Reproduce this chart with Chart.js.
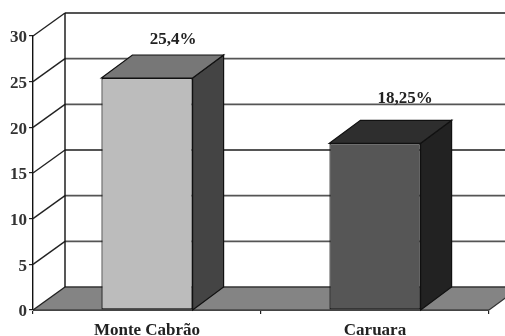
<!DOCTYPE html>
<html><head><meta charset="utf-8">
<script src="https://cdn.jsdelivr.net/npm/chart.js@4"></script>
<style>
html,body{margin:0;padding:0;background:#fff;overflow:hidden}
#w{width:505px;height:336px}
canvas{display:block;filter:blur(0.6px)}
</style></head><body><div id="w"><canvas id="c"></canvas></div>
<script>
const categories = ['Monte Cabrão', 'Caruara'];
const values = [25.4, 18.25];
const valueLabels = ['25,4%', '18,25%'];
const yMax = 30;
const yStep = 5;

const frontColors = ['#bcbcbc', '#565656'];
const sideColors = ['#444444', '#222222'];
const topColors = ['#777777', '#2e2e2e'];
const DX = 31, DY = 23;
const labelOffsets = [[26, -38], [30, -45]];
const FONT = 'bold 17px "Liberation Serif"';

function poly(ctx, pts, fill, stroke, lw) {
  ctx.beginPath();
  pts.forEach((p, i) => i ? ctx.lineTo(p[0], p[1]) : ctx.moveTo(p[0], p[1]));
  ctx.closePath();
  if (fill) { ctx.fillStyle = fill; ctx.fill(); }
  if (stroke) { ctx.strokeStyle = stroke; ctx.lineWidth = lw || 1; ctx.stroke(); }
}
function seg(ctx, x0, y0, x1, y1, color, lw) {
  ctx.beginPath(); ctx.moveTo(x0, y0); ctx.lineTo(x1, y1);
  ctx.strokeStyle = color; ctx.lineWidth = lw; ctx.stroke();
}

const box3d = {
  id: 'box3d',
  beforeDatasetsDraw(chart) {
    const { ctx, chartArea: a, scales: { y } } = chart;
    ctx.save();
    const bx = a.left + DX + 1, ex = a.right + DX;
    const y0 = y.getPixelForValue(0);
    poly(ctx, [[a.left, y0], [bx, y0 - DY], [ex, y0 - DY], [a.right, y0]], '#848484');
    seg(ctx, bx, y0 - DY, ex, y0 - DY, '#333', 1.6);
    seg(ctx, a.left, y0, a.right, y0, '#444', 1.6);
    seg(ctx, a.right, y0, ex, y0 - DY, '#333', 1.2);
    y.ticks.forEach(t => {
      const py = y.getPixelForValue(t.value);
      if (t.value > 0) seg(ctx, bx, py - DY, ex, py - DY, '#555', 1.8);
      seg(ctx, a.left, py, bx, py - DY, '#222', 1.4);
    });
    seg(ctx, bx, y.getPixelForValue(yMax) - DY, bx, y0 - DY, '#111', 1.4);
    chart.getDatasetMeta(0).data.forEach((b, i) => {
      const l = b.x - b.width / 2, r = b.x + b.width / 2;
      poly(ctx, [[r, b.y], [r + DX, b.y - DY], [r + DX, y0 - DY], [r, y0]], sideColors[i], '#111', 1.2);
      poly(ctx, [[l, b.y], [l + DX, b.y - DY], [r + DX, b.y - DY], [r, b.y]], topColors[i], '#111', 1.2);
    });
    ctx.restore();
  },
  afterDatasetsDraw(chart) {
    const { ctx } = chart;
    ctx.save();
    ctx.font = FONT;
    ctx.fillStyle = '#222';
    ctx.textAlign = 'center';
    ctx.textBaseline = 'middle';
    chart.getDatasetMeta(0).data.forEach((b, i) => {
      ctx.fillText(valueLabels[i], b.x + labelOffsets[i][0], b.y + labelOffsets[i][1]);
    });
    ctx.restore();
  }
};

new Chart(document.getElementById('c'), {
  type: 'bar',
  data: {
    labels: categories,
    datasets: [{
      data: values,
      backgroundColor: frontColors,
      borderColor: '#111',
      borderWidth: 1.2,
      borderSkipped: false,
      barPercentage: 0.4,
      categoryPercentage: 1
    }]
  },
  plugins: [box3d],
  options: {
    responsive: true,
    maintainAspectRatio: false,
    animation: false,
    layout: { padding: { top: 36, right: 16, left: 0, bottom: 0 } },
    plugins: { legend: { display: false }, tooltip: { enabled: false } },
    scales: {
      x: {
        afterFit(s) { s.height = 26; },
        grid: { drawOnChartArea: false, tickLength: 4, color: '#222', lineWidth: 1.2 },
        border: { color: '#444', width: 1 },
        ticks: { font: { family: 'Liberation Serif', size: 17, weight: 'bold' }, color: '#222', padding: 6, maxRotation: 0 }
      },
      y: {
        min: 0, max: yMax,
        afterFit(s) { s.width = 33; },
        grid: { drawOnChartArea: false, tickLength: 4, color: '#222', lineWidth: 1.2 },
        border: { color: '#111', width: 1.4 },
        ticks: { stepSize: yStep, font: { family: 'Liberation Serif', size: 17, weight: 'bold' }, color: '#333', padding: 2, labelOffset: 2 }
      }
    }
  }
});
</script></body></html>
